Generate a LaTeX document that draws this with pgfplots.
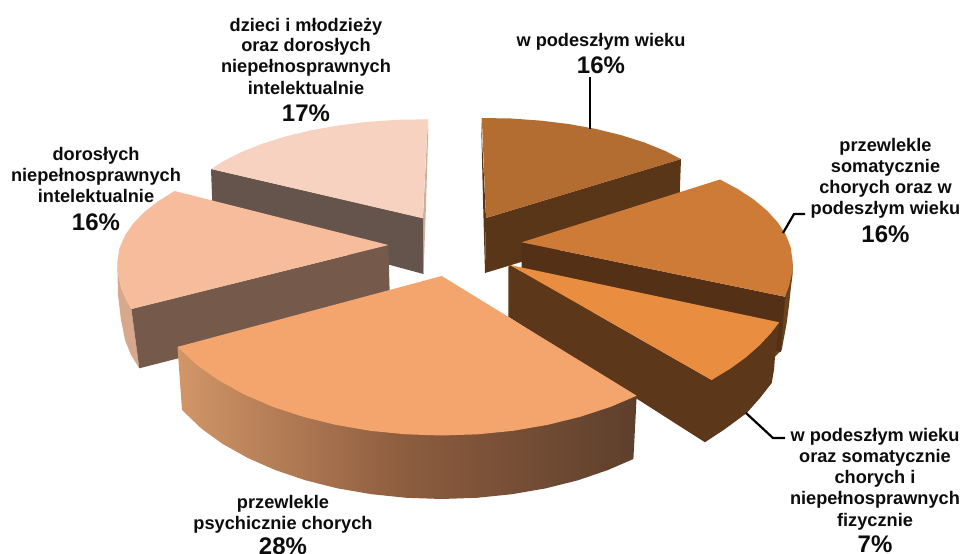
\documentclass[border=0pt]{standalone}
\usepackage{pgfplots}
\pgfplotsset{compat=1.18}
\usepackage{fontspec}
\setmainfont{Liberation Sans}
\definecolor{aT}{HTML}{B36D30}\definecolor{aS}{HTML}{5A3619}
\definecolor{bT}{HTML}{CF7B38}\definecolor{bS}{HTML}{543116}\definecolor{bO}{HTML}{6B421C}
\definecolor{cT}{HTML}{E98D41}\definecolor{cS}{HTML}{5C3719}
\definecolor{dT}{HTML}{F4A46D}\definecolor{dL}{HTML}{D29668}\definecolor{dM}{HTML}{8C5C3E}\definecolor{dR}{HTML}{5E3F2C}\definecolor{dI}{HTML}{CC9060}
\definecolor{eT}{HTML}{F6BC9C}\definecolor{eS}{HTML}{755A4B}\definecolor{eO}{HTML}{D8A88C}
\definecolor{fT}{HTML}{F7D2C0}\definecolor{fS}{HTML}{65544C}\definecolor{fO}{HTML}{D0AE9E}
\tikzset{lab/.style={font=\fontsize{18.2}{18}\selectfont\bfseries,anchor=base,inner sep=0pt,text=black!95},
  pct/.style={font=\fontsize{24}{24}\selectfont\bfseries,anchor=base,inner sep=0pt,text=black!95}}
\begin{document}
\begin{tikzpicture}
\begin{axis}[at={(0,0)},anchor=south west,scale only axis,width=964pt,height=554pt,
  xmin=0,xmax=964,ymin=0,ymax=554,y dir=reverse,hide axis,clip=true]
\path (rel axis cs:0,0) rectangle (rel axis cs:1,1);
% F
\addplot[fill=fO,draw=none] coordinates {(428,119)(423,218)(423.5,274)(425.5,220)(428,140)} -- cycle;
\addplot[fill=fS,draw=none] coordinates {(211,169)(423,218)(423.5,274)(390,265)(213,222)} -- cycle;
\addplot[fill=fT,draw=none] coordinates {(427.8,119.3)(397.2,119.8)(367.8,121.8)(339.2,125.3)(311.9,130.1)(286.3,136.2)(262.6,143.6)(241.4,152)(222.8,161.5)(211.2,169)(422.7,218.3)} -- cycle;
% E
\addplot[fill=eO,draw=none] coordinates {(131.4,309)(126.5,300.5)(121.4,288.2)(118.3,275.6)(117.3,263)(118,295)(121,320)(125,340)(131,355)(139.3,368.3)} -- cycle;
\addplot[fill=eS,draw=none] coordinates {(131.4,309)(388.3,245)(390,304)(139.3,368.3)} -- cycle;
\addplot[fill=eT,draw=none] coordinates {(174.7,191)(158.5,201)(144.7,211.7)(133.6,223)(125.4,234.7)(119.3,248.7)(117.3,263)(118.3,275.6)(121.4,288.2)(126.5,300.5)(131.4,309)(388.3,245)} -- cycle;
% A
\addplot[fill=aS,draw=none] coordinates {(481,118)(486,218)(485,273)(483,200)} -- cycle;
\addplot[fill=aS,draw=none] coordinates {(486,218)(681,159)(679,214)(485,273)} -- cycle;
\addplot[fill=aT,draw=none] coordinates {(481.8,118)(511.2,118.5)(540.3,120.6)(568.6,124)(595.6,128.9)(621,135.1)(644.4,142.5)(665.5,151.1)(681,159.1)(486,218)} -- cycle;
% B
\addplot[fill=bO,draw=none] coordinates {(785,296.7)(792.7,262)(792.5,275)(791,286.7)(789,305)(786.7,323)(781.7,350)(775,356.7)(770,340)} -- cycle;
\addplot[fill=bS,draw=none] coordinates {(521.7,242.3)(785,296.7)(781,352)(521.7,297)} -- cycle;
\addplot[fill=bT,draw=none] coordinates {(720,179.5)(738.1,189.2)(754,199.7)(767.3,210.9)(777.9,222.6)(785.8,234.8)(790.7,247.3)(792.7,262)(791.7,274.7)(788.6,287.4)(785,296.7)(521.7,242.3)} -- cycle;
% C
\addplot[fill=cS,draw=none] coordinates {(510,265)(508.3,267)(508.3,316.7)(705,442.3)(725,429)(746.7,413)(760,398)(771.7,383)(774,370)(775,356.7)(779.3,322.3)(711.7,380)} -- cycle;
\addplot[fill=cT,draw=none] coordinates {(510,265)(779.2,322.3)(771,333)(759.4,345.5)(745.9,357.3)(730.6,368.5)(711.6,380)} -- cycle;
% D
\addplot[draw=none,left color=dL,right color=dR,middle color=dM] coordinates {(177.5,346.9)(182,410)(201.3,428.5)(222.8,444)(247.7,457.9)(275.4,470.1)(305.5,480.3)(337.8,488.4)(371.5,494.2)(406.4,497.8)(441.7,499)(477,497.8)(511.9,494.2)(545.6,488.4)(577.9,480.3)(608,470)(633.4,459)(636.7,395.7)(441.7,380)} -- cycle;
\addplot[fill=dT,draw=none] coordinates {(441.7,276)(636.7,395.7)(611,406.7)(580.2,416.8)(547.4,424.9)(513.1,430.8)(477.7,434.3)(441.7,435.5)(405.7,434.3)(370.3,430.8)(336,424.9)(303.2,416.8)(272.5,406.7)(244.3,394.5)(219.1,380.6)(197.1,365.2)(177.5,346.9)} -- cycle;
% leader lines
\addplot[black,line width=2.6pt] coordinates {(590,77)(590,129)};
\addplot[black,line width=2.2pt] coordinates {(783,233)(794,214)(805,214)};
\addplot[black,line width=2.2pt] coordinates {(746,413)(773,438)(785,438)};
% labels
\node[lab] at (axis cs:601,46) {w podeszłym wieku};
\node[pct] at (axis cs:601,73) {16\%};
\node[lab] at (axis cs:885.5,151) {przewlekle};
\node[lab] at (axis cs:885.5,172) {somatycznie};
\node[lab] at (axis cs:885.5,193) {chorych oraz w};
\node[lab] at (axis cs:885.5,214) {podeszłym wieku};
\node[pct] at (axis cs:885.5,242) {16\%};
\node[lab] at (axis cs:875,441) {w podeszłym wieku};
\node[lab] at (axis cs:875,462) {oraz somatycznie};
\node[lab] at (axis cs:875,483) {chorych i};
\node[lab] at (axis cs:875,504) {niepełnosprawnych};
\node[lab] at (axis cs:875,526) {fizycznie};
\node[pct] at (axis cs:875,552) {7\%};
\node[lab] at (axis cs:283,508) {przewlekle};
\node[lab] at (axis cs:283,529) {psychicznie chorych};
\node[pct,overlay] at (axis cs:283,554) {28\%};
\node[lab] at (axis cs:96,160) {dorosłych};
\node[lab] at (axis cs:96,181) {niepełnosprawnych};
\node[lab] at (axis cs:96,202) {intelektualnie};
\node[pct] at (axis cs:96,230) {16\%};
\node[lab] at (axis cs:306,31) {dzieci i młodzieży};
\node[lab] at (axis cs:306,51) {oraz dorosłych};
\node[lab] at (axis cs:306,72) {niepełnosprawnych};
\node[lab] at (axis cs:306,94) {intelektualnie};
\node[pct] at (axis cs:306,121) {17\%};
\end{axis}
\end{tikzpicture}
\end{document}
